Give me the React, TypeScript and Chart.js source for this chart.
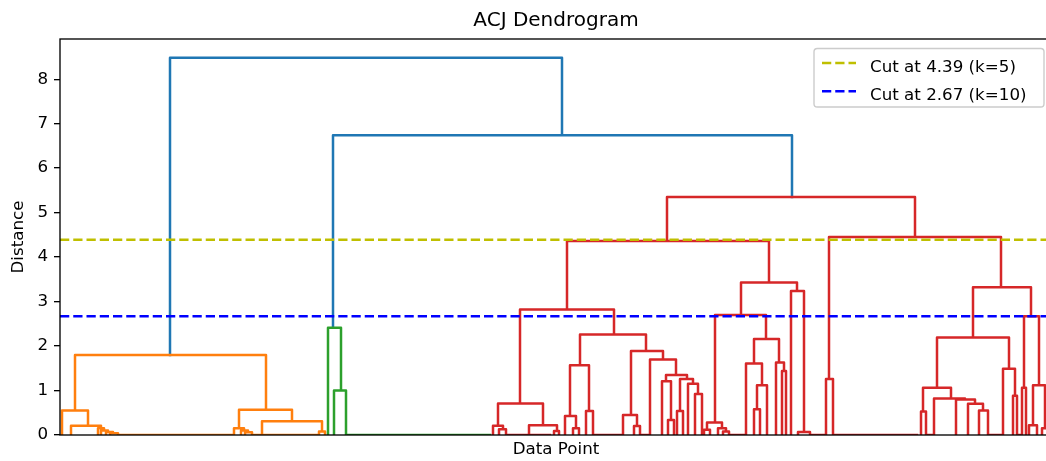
import React, { useEffect, useRef } from "react";
import { Chart, registerables } from "chart.js";

Chart.register(...registerables);

// A link is one U-shape of the dendrogram, as scipy's icoord/dcoord give it:
// [x of left leg, x of right leg, bottom of left leg, merge height, bottom of right leg]
type Link = [number, number, number, number, number];

const chartTitle = "ACJ Dendrogram";
const xAxisLabel = "Data Point";
const yAxisLabel = "Distance";
const xExtent = [0, 992];
const yExtent = [0, 8.904];
const yTickValues = [0, 1, 2, 3, 4, 5, 6, 7, 8];

const aboveThresholdColor = "#1f77b4";
const cluster1Color = "#ff7f0e";
const cluster2Color = "#2ca02c";
const cluster3Color = "#d62728";

const aboveThresholdLinks: Link[] = [
  [110, 502, 1.8, 8.48, 6.74],
  [273, 732, 2.41, 6.74, 5.35],
];

const cluster1Links: Link[] = [
  [15, 206, 0.55, 1.8, 0.57],
  [2, 28, 0, 0.55, 0.21],
  [11, 41, 0, 0.21, 0.15],
  [38, 44, 0, 0.15, 0.1],
  [41, 48, 0, 0.1, 0.07],
  [46, 53, 0, 0.07, 0.04],
  [50, 58, 0, 0.04, 0],
  [58, 173, 0, 0, 0],
  [179, 232, 0.15, 0.57, 0.31],
  [174, 184, 0, 0.15, 0.1],
  [181, 188, 0, 0.1, 0.06],
  [185, 192, 0, 0.06, 0],
  [192, 202, 0, 0, 0],
  [202, 262, 0, 0.31, 0.08],
  [202, 259, 0, 0, 0],
  [259, 265, 0, 0.08, 0],
];

const cluster2Links: Link[] = [
  [268, 281, 0, 2.41, 1.0],
  [274, 286, 0, 1.0, 0],
  [286, 430, 0, 0, 0],
];

const cluster3Links: Link[] = [
  [607, 855, 4.36, 5.35, 4.45],
  [507, 709, 2.82, 4.36, 3.43],
  [460, 554, 0.71, 2.82, 2.26],
  [438, 483, 0.21, 0.71, 0.22],
  [433, 443, 0, 0.21, 0.13],
  [439, 446, 0, 0.13, 0],
  [446, 463, 0, 0, 0],
  [469, 497, 0, 0.22, 0.09],
  [494, 499, 0, 0.09, 0],
  [463, 490, 0, 0, 0],
  [520, 586, 1.57, 2.26, 1.89],
  [510, 529, 0.43, 1.57, 0.54],
  [505, 516, 0, 0.43, 0.15],
  [513, 519, 0, 0.15, 0],
  [526, 533, 0, 0.54, 0],
  [533, 562, 0, 0, 0],
  [571, 603, 0.45, 1.89, 1.7],
  [563, 577, 0, 0.45, 0.2],
  [574, 580, 0, 0.2, 0],
  [590, 616, 0, 1.7, 1.35],
  [606, 627, 1.21, 1.35, 1.26],
  [602, 611, 0, 1.21, 0.34],
  [608, 614, 0, 0.34, 0],
  [620, 633, 0.54, 1.26, 1.15],
  [617, 623, 0, 0.54, 0],
  [628, 638, 0, 1.15, 0.92],
  [635, 642, 0, 0.92, 0],
  [580, 590, 0, 0, 0],
  [681, 737, 2.7, 3.43, 3.24],
  [655, 706, 0.28, 2.7, 2.16],
  [647, 662, 0.12, 0.28, 0.15],
  [644, 650, 0, 0.12, 0],
  [658, 666, 0, 0.15, 0.08],
  [663, 669, 0, 0.08, 0],
  [669, 686, 0, 0, 0],
  [694, 719, 1.61, 2.16, 1.63],
  [686, 702, 0, 1.61, 1.12],
  [697, 707, 0.58, 1.12, 0],
  [694, 700, 0, 0.58, 0],
  [716, 724, 0, 1.63, 1.44],
  [722, 726, 0, 1.44, 0],
  [731, 744, 0, 3.24, 0.07],
  [738, 750, 0, 0.07, 0],
  [750, 766, 0, 0, 0],
  [769, 941, 1.26, 4.45, 3.32],
  [766, 773, 0, 1.26, 0],
  [773, 857, 0, 0, 0],
  [913, 971, 2.19, 3.32, 2.67],
  [877, 949, 1.06, 2.19, 1.49],
  [863, 891, 0.53, 1.06, 0.82],
  [861, 866, 0, 0.53, 0],
  [866, 874, 0, 0, 0],
  [874, 905, 0, 0.82, 0.8],
  [896, 915, 0, 0.8, 0.7],
  [908, 923, 0, 0.7, 0.55],
  [919, 928, 0, 0.55, 0],
  [928, 943, 0, 0, 0],
  [943, 955, 0, 1.49, 0.88],
  [953, 957, 0, 0.88, 0],
  [957, 962, 0, 0, 0],
  [964, 979, 1.06, 2.67, 1.12],
  [962, 966, 0, 1.06, 0],
  [973, 985, 0.22, 1.12, 0.15],
  [969, 977, 0, 0.22, 0],
  [982, 988, 0, 0.15, 0],
  [988, 992, 0, 0, 0],
];

const cutHeights = [4.39, 2.67];
const cutLabels = ["Cut at 4.39 (k=5)", "Cut at 2.67 (k=10)"];
const cutColors = ["#bfbf00", "#0000ff"];

const FONT = "DejaVu Sans";
const DASH = [9.25, 4];

function linkPoints(links: Link[]) {
  const pts: { x: number; y: number | null }[] = [];
  for (const [xl, xr, yl, yt, yr] of links) {
    pts.push({ x: xl, y: yl }, { x: xl, y: yt }, { x: xr, y: yt }, { x: xr, y: yr }, { x: xr, y: null });
  }
  return pts;
}

const decorPlugin = {
  id: "decor",
  afterDatasetsDraw(chart: any) {
    const { ctx, chartArea: a } = chart;
    ctx.save();
    // frame
    ctx.strokeStyle = "#000";
    ctx.lineWidth = 1.33;
    ctx.setLineDash([]);
    ctx.strokeRect(a.left, a.top, a.right - a.left, a.bottom - a.top);
    // title
    ctx.fillStyle = "#000";
    ctx.font = `20px "${FONT}"`;
    ctx.textAlign = "center";
    ctx.textBaseline = "alphabetic";
    ctx.fillText(chartTitle, (a.left + a.right) / 2, a.top - 13);
    // legend
    const bx = a.right - 238;
    const by = a.top + 9.5;
    const bw = 230;
    const bh = 58.5;
    ctx.beginPath();
    if ((ctx as any).roundRect) (ctx as any).roundRect(bx, by, bw, bh, 3.3);
    else ctx.rect(bx, by, bw, bh);
    ctx.fillStyle = "rgba(255,255,255,0.8)";
    ctx.fill();
    ctx.strokeStyle = "#cccccc";
    ctx.lineWidth = 1.4;
    ctx.stroke();
    ctx.font = `16.7px "${FONT}"`;
    ctx.textAlign = "left";
    for (let i = 0; i < cutLabels.length; i++) {
      const hy = by + 14.5 + i * 28.2;
      ctx.beginPath();
      ctx.setLineDash(DASH);
      ctx.lineWidth = 2.5;
      ctx.strokeStyle = cutColors[i];
      ctx.moveTo(bx + 8, hy);
      ctx.lineTo(bx + 42, hy);
      ctx.stroke();
      ctx.setLineDash([]);
      ctx.fillStyle = "#000";
      ctx.fillText(cutLabels[i], bx + 56, hy + 8.7);
    }
    ctx.restore();
  },
};

export default function App() {
  const canvasRef = useRef<HTMLCanvasElement | null>(null);

  useEffect(() => {
    if (!canvasRef.current) return;
    const linkStyle = {
      showLine: true,
      pointRadius: 0,
      borderWidth: 2.5,
      spanGaps: false,
      borderCapStyle: "square" as const,
      borderJoinStyle: "round" as const,
      clip: { left: 4, top: 4, right: 4, bottom: 0 },
      order: 1,
    };
    const groups: [Link[], string][] = [
      [cluster3Links, cluster3Color],
      [cluster2Links, cluster2Color],
      [cluster1Links, cluster1Color],
      [aboveThresholdLinks, aboveThresholdColor],
    ];
    const datasets: any[] = cutHeights.map((h, i) => ({
      label: cutLabels[i],
      data: [
        { x: xExtent[0], y: h },
        { x: xExtent[1], y: h },
      ],
      showLine: true,
      pointRadius: 0,
      borderWidth: 2.5,
      borderColor: cutColors[i],
      borderDash: DASH,
      clip: 0,
      order: 0,
    }));
    groups.forEach(([links, color]) => {
      datasets.push({ ...linkStyle, data: linkPoints(links), borderColor: color });
    });

    const chart = new Chart(canvasRef.current, {
      type: "scatter",
      data: { datasets },
      options: {
        animation: false,
        responsive: false,
        events: [],
        layout: { padding: { top: 39, right: 8, left: 0, bottom: 0 } },
        plugins: { legend: { display: false }, title: { display: false }, tooltip: { enabled: false } },
        scales: {
          x: {
            type: "linear",
            min: xExtent[0],
            max: xExtent[1],
            afterFit: (s: any) => {
              s.height = 26;
            },
            grid: { display: false },
            border: { display: false },
            ticks: { display: false },
            title: {
              display: true,
              text: xAxisLabel,
              color: "#000",
              font: { family: FONT, size: 16.7 },
              padding: { top: 0, bottom: 1 },
            },
          },
          y: {
            type: "linear",
            min: yExtent[0],
            max: yExtent[1],
            afterBuildTicks: (s: any) => {
              s.ticks = yTickValues.map((v) => ({ value: v }));
            },
            afterFit: (s: any) => {
              s.width = 60;
            },
            grid: {
              display: true,
              drawOnChartArea: false,
              drawTicks: true,
              tickLength: 6,
              color: "#000",
              lineWidth: 1.33,
            },
            border: { display: false },
            ticks: { color: "#000", padding: 6, font: { family: FONT, size: 16.7 } },
            title: {
              display: true,
              text: yAxisLabel,
              color: "#000",
              font: { family: FONT, size: 16.7 },
              padding: { top: 9, bottom: 0 },
            },
          },
        },
      },
      plugins: [decorPlugin],
    });
    return () => chart.destroy();
  }, []);

  return (
    <div
      style={{
        position: "fixed",
        left: 0,
        top: 0,
        width: 1046,
        height: 461,
        overflow: "hidden",
        background: "#fff",
      }}
    >
      <canvas ref={canvasRef} width={1060} height={461} style={{ display: "block" }} />
    </div>
  );
}
